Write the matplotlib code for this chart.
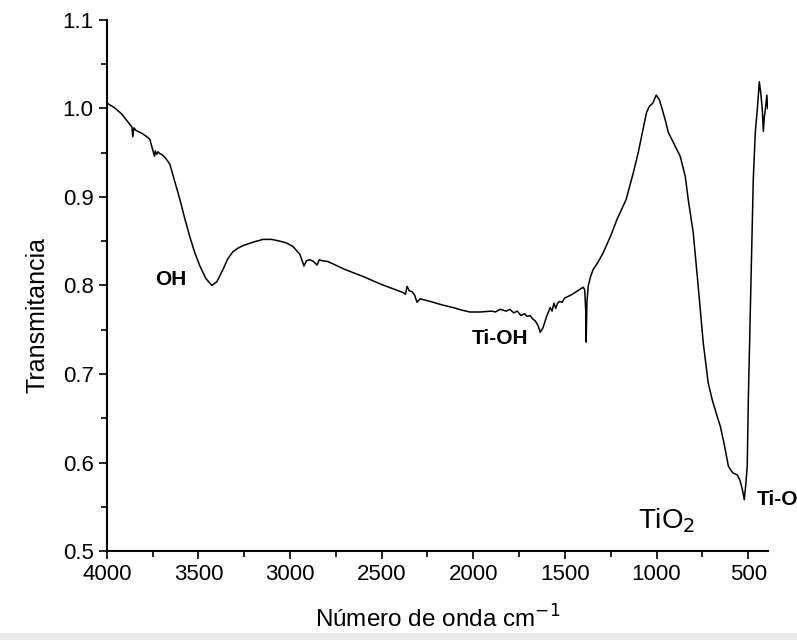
import matplotlib.pyplot as plt
from matplotlib.ticker import MultipleLocator
from matplotlib.patches import Rectangle

plt.rcParams['font.family'] = ['Liberation Sans', 'DejaVu Sans']

# espectro FTIR (numero de onda, transmitancia)
wavenumber = [4000, 3960, 3920, 3890, 3863, 3858, 3852, 3840, 3810, 3782, 3765, 3749, 3740,
              3735, 3728, 3720, 3712, 3700, 3680, 3656, 3630, 3601, 3575, 3547, 3520, 3492,
              3460, 3427, 3400, 3366, 3340, 3312, 3285, 3257, 3200, 3148, 3100, 3055, 3020,
              2984, 2946, 2924, 2910, 2891, 2872, 2853, 2840, 2826, 2793, 2700, 2600, 2500,
              2383, 2370, 2361, 2350, 2334, 2320, 2307, 2290, 2274, 2236, 2170, 2110, 2060,
              2018, 1963, 1900, 1880, 1854, 1820, 1800, 1780, 1760, 1740, 1720, 1706, 1690,
              1675, 1662, 1645, 1635, 1620, 1600, 1580, 1570, 1560, 1550, 1542, 1530, 1515,
              1500, 1488, 1460, 1430, 1400, 1392, 1386, 1384, 1380, 1373, 1360, 1346, 1320,
              1291, 1250, 1215, 1166, 1127, 1100, 1075, 1055, 1040, 1020, 1002, 985, 969, 950,
              936, 900, 871, 843, 827, 800, 773, 745, 718, 695, 669, 652, 630, 608, 590, 581,
              570, 559, 545, 532, 521, 513, 505, 499, 485, 472, 461, 450, 439, 430, 423, 417,
              412, 406, 398, 394]
transmittance = [1.006, 1.001, 0.994, 0.986, 0.979, 0.968, 0.978, 0.975, 0.972, 0.968, 0.965,
                 0.953, 0.946, 0.952, 0.948, 0.951, 0.949, 0.948, 0.944, 0.937, 0.918, 0.897,
                 0.876, 0.855, 0.837, 0.822, 0.808, 0.800, 0.804, 0.818, 0.830, 0.838, 0.842,
                 0.845, 0.849, 0.852, 0.852, 0.850, 0.848, 0.844, 0.835, 0.822, 0.828, 0.829,
                 0.827, 0.823, 0.829, 0.828, 0.827, 0.818, 0.810, 0.801, 0.792, 0.790, 0.799,
                 0.794, 0.793, 0.789, 0.781, 0.785, 0.784, 0.782, 0.778, 0.775, 0.772, 0.770,
                 0.770, 0.771, 0.770, 0.773, 0.771, 0.773, 0.769, 0.771, 0.766, 0.768, 0.765,
                 0.766, 0.762, 0.760, 0.754, 0.747, 0.752, 0.765, 0.775, 0.771, 0.780, 0.774,
                 0.779, 0.782, 0.781, 0.786, 0.787, 0.790, 0.794, 0.798, 0.795, 0.770, 0.736,
                 0.780, 0.799, 0.810, 0.818, 0.826, 0.837, 0.856, 0.875, 0.897, 0.927, 0.950,
                 0.975, 0.995, 1.002, 1.006, 1.015, 1.010, 0.999, 0.985, 0.973, 0.958, 0.946,
                 0.923, 0.897, 0.860, 0.800, 0.735, 0.690, 0.670, 0.652, 0.641, 0.620, 0.596,
                 0.590, 0.588, 0.587, 0.586, 0.580, 0.570, 0.558, 0.575, 0.596, 0.672, 0.800,
                 0.920, 0.973, 0.999, 1.030, 1.015, 0.999, 0.974, 0.990, 0.999, 1.015, 1.000]

fig = plt.figure(figsize=(7.97, 6.4), dpi=100)
ax = fig.add_axes([0.134, 0.139, 0.830, 0.830])

ax.plot(wavenumber, transmittance, color='black', linewidth=1.1)

ax.set_xlim(4000, 390)
ax.set_ylim(0.5, 1.1)
ax.xaxis.set_major_locator(MultipleLocator(500))
ax.xaxis.set_minor_locator(MultipleLocator(250))
ax.yaxis.set_major_locator(MultipleLocator(0.1))
ax.yaxis.set_minor_locator(MultipleLocator(0.05))
ax.tick_params(which='major', direction='out', length=6, width=1.2, labelsize=16)
ax.tick_params(which='minor', direction='out', length=4, width=1.2)

ax.spines['top'].set_visible(False)
ax.spines['right'].set_visible(False)
ax.spines['left'].set_linewidth(1.5)
ax.spines['bottom'].set_linewidth(1.5)

ax.set_xlabel('Número de onda cm$^{-1}$', fontsize=17.5)
ax.set_ylabel('Transmitancia', fontsize=18)
ax.xaxis.set_label_coords(0.5, -0.103)
ax.yaxis.set_label_coords(-0.086, 0.444)

# etiquetas de las bandas
ax.text(3650, 0.807, 'OH', fontsize=15, fontweight='bold', ha='center', va='center')
ax.text(1854, 0.740, 'Ti-OH', fontsize=15, fontweight='bold', ha='center', va='center')
ax.text(455, 0.558, 'Ti-O', fontsize=15, fontweight='bold', ha='left', va='center',
        clip_on=False)
ax.text(947, 0.534, 'TiO$_2$', fontsize=20, ha='center', va='center')

fig.patches.append(Rectangle((0, 0), 1, 7 / 640, transform=fig.transFigure,
                             color='#ececec', zorder=-1))

fig.savefig('out.png', dpi=100)
